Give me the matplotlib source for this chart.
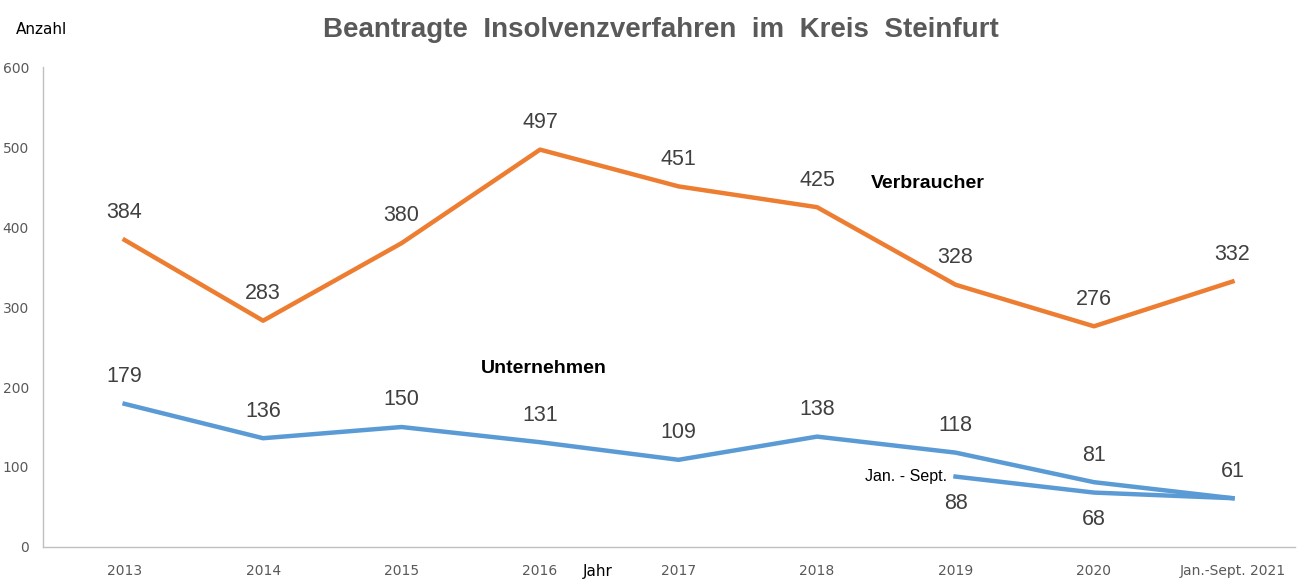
import matplotlib.pyplot as plt

jahre = ["2013", "2014", "2015", "2016", "2017", "2018", "2019", "2020", "Jan.-Sept. 2021"]
verbraucher = [384, 283, 380, 497, 451, 425, 328, 276, 332]
unternehmen = [179, 136, 150, 131, 109, 138, 118, 81, 61]
jan_sept_idx = [6, 7, 8]
jan_sept = [88, 68, 61]

orange = "#ED7D31"
blue = "#5B9BD5"
txt = "#404040"
arial = "Liberation Sans"

fig = plt.figure(figsize=(13, 5.8), dpi=100)
ax = fig.add_axes([0.033, 0.057, 0.963, 0.827])

x = list(range(len(jahre)))
ax.plot(x, verbraucher, color=orange, lw=3.2, solid_joinstyle="round")
ax.plot(x, unternehmen, color=blue, lw=3.2, solid_joinstyle="round")
ax.plot(jan_sept_idx, jan_sept, color=blue, lw=3.2, solid_joinstyle="round")

for i, v in zip(x, verbraucher):
    ax.annotate(str(v), (i, v), xytext=(0, 12), textcoords="offset points",
                ha="center", va="bottom", fontsize=15.5, color=txt, family=arial)
for i, v in zip(x, unternehmen):
    ax.annotate(str(v), (i, v), xytext=(0, 12), textcoords="offset points",
                ha="center", va="bottom", fontsize=15.5, color=txt, family=arial)
for i, v in zip(jan_sept_idx[:2], jan_sept[:2]):
    ax.annotate(str(v), (i, v), xytext=(0, -12), textcoords="offset points",
                ha="center", va="top", fontsize=15.5, color=txt, family=arial)

ax.text(5.8, 455, "Verbraucher", fontsize=14, fontweight="bold", color="black",
        ha="center", va="center", family=arial)
ax.text(3.03, 223, "Unternehmen", fontsize=14, fontweight="bold", color="black",
        ha="center", va="center", family=arial)
ax.text(5.94, 88, "Jan. - Sept.", fontsize=11.5, color="black", ha="right",
        va="center", family=arial)

ax.set_xlim(-0.59, 8.45)
ax.set_ylim(0, 600)
ax.set_yticks(range(0, 601, 100))
ax.set_xticks(x)
ax.set_xticklabels(jahre)
ax.tick_params(axis="both", length=0, labelsize=10, colors="#595959", pad=12)
ax.tick_params(axis="y", pad=10)
for s in ["top", "right"]:
    ax.spines[s].set_visible(False)
for s in ["left", "bottom"]:
    ax.spines[s].set_color("#BFBFBF")
    ax.spines[s].set_linewidth(1)

fig.text(0.508, 0.948, "Beantragte  Insolvenzverfahren  im  Kreis  Steinfurt",
         fontsize=20, fontweight="bold", color="#595959", ha="center", va="center",
         family=arial)
fig.text(0.012, 0.95, "Anzahl", fontsize=11, color="black", ha="left", va="center")
fig.text(0.46, 0.002, "Jahr", fontsize=11, color="black", ha="center", va="bottom")

fig.savefig("out.png", dpi=100)
